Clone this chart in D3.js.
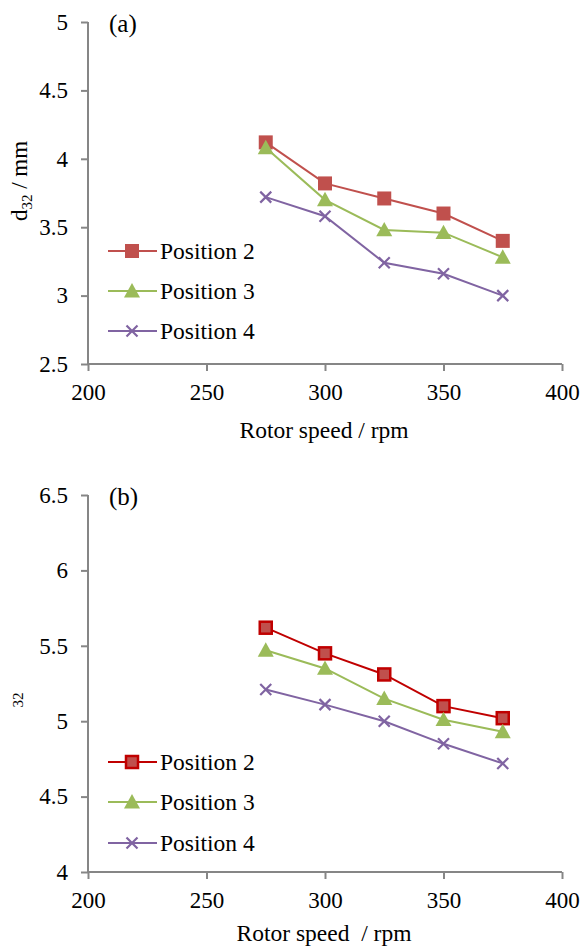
<!DOCTYPE html>
<html>
<head>
<meta charset="utf-8">
<script src="https://cdn.jsdelivr.net/npm/d3@7"></script>
<style>
  body { margin: 0; background: #fff; }
</style>
</head>
<body>
<div id="chart"></div>
<script>
// rotor speeds (x) and the three measuring positions
const speeds = [275, 300, 325, 350, 375];
const seriesNames = ["Position 2", "Position 3", "Position 4"];
const xTicks = [200, 250, 300, 350, 400];

// panel (a): d32 / mm
const aPos2 = [4.12, 3.82, 3.71, 3.60, 3.40];
const aPos3 = [4.08, 3.70, 3.48, 3.46, 3.28];
const aPos4 = [3.72, 3.58, 3.24, 3.16, 3.00];
const aTicks = [2.5, 3, 3.5, 4, 4.5, 5];

// panel (b)
const bPos2 = [5.62, 5.45, 5.31, 5.10, 5.02];
const bPos3 = [5.47, 5.35, 5.15, 5.01, 4.93];
const bPos4 = [5.21, 5.11, 5.00, 4.85, 4.72];
const bTicks = [4, 4.5, 5, 5.5, 6, 6.5];

const W = 583, H = 947;
const FONT = '"Liberation Serif", "Times New Roman", serif';
const svg = d3.select("#chart").append("svg")
    .attr("width", W).attr("height", H);

const axisColor = "#868686";

// styles per series (panel b uses a darker red outline on position 2)
const stylesA = [
  {line: "#C0504D", fill: "#C0504D", stroke: "none", shape: "square"},
  {line: "#9BBB59", fill: "#9BBB59", stroke: "none", shape: "triangle"},
  {line: "#8064A2", fill: "none", stroke: "#8064A2", shape: "x"}
];
const stylesB = [
  {line: "#C00000", fill: "#C0504D", stroke: "#C00000", shape: "square"},
  {line: "#9BBB59", fill: "#9BBB59", stroke: "none", shape: "triangle"},
  {line: "#8064A2", fill: "none", stroke: "#8064A2", shape: "x"}
];

function drawMarker(g, shape, st, x, y) {
  if (shape === "square") {
    const s = st.stroke === "none" ? 14 : 12;
    g.append("rect").attr("x", x - s / 2).attr("y", y - s / 2)
      .attr("width", s).attr("height", s)
      .attr("fill", st.fill)
      .attr("stroke", st.stroke).attr("stroke-width", st.stroke === "none" ? 0 : 2.5);
  } else if (shape === "triangle") {
    const r = 8;
    g.append("path")
      .attr("d", `M${x},${y - r} L${x + r},${y + r * 0.8} L${x - r},${y + r * 0.8} Z`)
      .attr("fill", st.fill);
  } else {
    const r = 5.5;
    g.append("path")
      .attr("d", `M${x - r},${y - r} L${x + r},${y + r} M${x - r},${y + r} L${x + r},${y - r}`)
      .attr("stroke", st.stroke).attr("stroke-width", 2.2).attr("fill", "none");
  }
}

function styleAxis(ax, domainPath) {
  ax.attr("font-family", null).attr("font-size", null);
  ax.select(".domain").attr("stroke", axisColor).attr("stroke-width", 2).attr("d", domainPath);
  ax.selectAll(".tick line").attr("stroke", axisColor).attr("stroke-width", 2);
  ax.selectAll(".tick text").style("font-family", FONT).style("font-size", "23px").attr("fill", "#000");
}

function panel(cfg) {
  const x = d3.scaleLinear().domain([200, 400]).range([88, 562]);
  const y = d3.scaleLinear().domain(cfg.domain).range([cfg.bottom, cfg.top]);
  const g = svg.append("g");

  // y axis
  const ya = g.append("g").attr("transform", "translate(88,0)")
    .call(d3.axisLeft(y).tickValues(cfg.ticks).tickSize(7).tickPadding(13).tickFormat(d3.format("")));
  styleAxis(ya, `M0,${cfg.top}V${cfg.bottom}`);

  // x axis
  const xa = g.append("g").attr("transform", `translate(0,${cfg.bottom})`)
    .call(d3.axisBottom(x).tickValues(xTicks).tickSize(7).tickPadding(13));
  styleAxis(xa, "M88,0H562");

  // series
  const line = d3.line().x((d, i) => x(speeds[i])).y(d => y(d));
  cfg.series.forEach((vals, k) => {
    const st = cfg.styles[k];
    g.append("path").datum(vals).attr("d", line)
      .attr("fill", "none").attr("stroke", st.line).attr("stroke-width", 2);
    vals.forEach((v, i) => drawMarker(g, st.shape, st, x(speeds[i]), y(v)));
  });

  // legend
  cfg.legendY.forEach((ly, k) => {
    const st = cfg.styles[k];
    g.append("line").attr("x1", 108).attr("x2", 157).attr("y1", ly).attr("y2", ly)
      .attr("stroke", st.line).attr("stroke-width", 2);
    drawMarker(g, st.shape, st, 132, ly);
    g.append("text").attr("x", 160).attr("y", ly + 8)
      .style("font-family", FONT).style("font-size", "23.5px").text(seriesNames[k]);
  });

  // panel tag
  g.append("text").attr("x", 109).attr("y", cfg.top + 10)
    .style("font-family", FONT).style("font-size", "25px").text(cfg.tag);

  // x title
  g.append("text").attr("x", 324).attr("y", cfg.titleY)
    .attr("text-anchor", "middle")
    .style("font-family", FONT).style("font-size", "23.5px")
    .style("white-space", "pre").text(cfg.xTitle);
}

panel({
  domain: [2.5, 5], ticks: aTicks, top: 22, bottom: 364,
  series: [aPos2, aPos3, aPos4], styles: stylesA,
  legendY: [251, 291, 331], tag: "(a)", xTitle: "Rotor speed / rpm", titleY: 438
});
panel({
  domain: [4, 6.5], ticks: bTicks, top: 495, bottom: 872,
  series: [bPos2, bPos3, bPos4], styles: stylesB,
  legendY: [762, 802, 843], tag: "(b)", xTitle: "Rotor speed  / rpm", titleY: 941
});

// y titles
const yt = svg.append("text").attr("transform", "translate(27,181) rotate(-90)")
  .attr("text-anchor", "middle")
  .style("font-family", FONT).style("font-size", "23px");
yt.append("tspan").text("d");
yt.append("tspan").style("font-size", "15px").attr("dy", 5).text("32");
yt.append("tspan").attr("dy", -5).style("white-space", "pre").text(" / mm");

svg.append("text").attr("transform", "translate(23,700) rotate(-90)")
  .attr("text-anchor", "middle")
  .style("font-family", FONT).style("font-size", "15px").text("32");
</script>
</body>
</html>
